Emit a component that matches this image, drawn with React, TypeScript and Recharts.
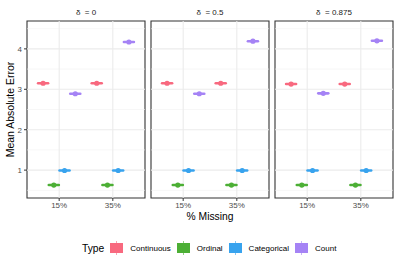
import { ScatterChart, Scatter, XAxis, YAxis, ReferenceLine, ReferenceArea } from "recharts";

const deltas = ["0", "0.5", "0.875"];
const missing = ["15%", "35%"];
const types = ["Continuous", "Ordinal", "Categorical", "Count"];
const COLORS = ["#F8697F", "#4CAF35", "#38A3EE", "#A583F5"];

// mean absolute error, [delta][missing]
const continuousMAE = [[3.15, 3.15], [3.15, 3.15], [3.13, 3.13]];
const ordinalMAE = [[0.63, 0.63], [0.63, 0.63], [0.63, 0.63]];
const categoricalMAE = [[0.99, 0.99], [0.99, 0.99], [0.99, 0.99]];
const countMAE = [[2.89, 4.17], [2.89, 4.19], [2.9, 4.2]];

const yTicks = [1, 2, 3, 4];
const yMinor = [0.5, 1.5, 2.5, 3.5, 4.5];

const seriesByType = [continuousMAE, ordinalMAE, categoricalMAE, countMAE];
const FONT = "Liberation Sans, Arial, sans-serif";

const Marker = (props: any) => {
  const { cx, cy, fill } = props;
  return (
    <g>
      <line x1={cx - 5} x2={cx + 5} y1={cy} y2={cy} stroke={fill} strokeWidth={2.6} strokeLinecap="round" />
      <circle cx={cx} cy={cy} r={2.6} fill={fill} />
    </g>
  );
};

function Panel({ d, first }: { d: number; first: boolean }) {
  const width = first ? 147 : 120;
  return (
    <ScatterChart
      width={width}
      height={215}
      margin={{ top: 21, right: first ? 2 : 1, left: first ? 0 : 1, bottom: 0 }}
    >
      <XAxis
        type="number"
        dataKey="x"
        domain={[0.4, 2.6]}
        ticks={[1, 2]}
        tickFormatter={(v) => missing[v - 1]}
        tick={{ fill: "#4D4D4D", fontSize: 8, fontFamily: FONT }}
        tickSize={3}
        tickMargin={1}
        axisLine={false}
        tickLine={{ stroke: "#333" }}
        height={17}
        allowDataOverflow
      />
      <YAxis
        type="number"
        dataKey="y"
        domain={[0.31, 4.69]}
        ticks={yTicks}
        hide={!first}
        width={27}
        tick={{ fill: "#4D4D4D", fontSize: 8, fontFamily: FONT }}
        tickSize={3}
        tickMargin={2}
        axisLine={false}
        tickLine={{ stroke: "#333" }}
        allowDataOverflow
        label={{
          value: "Mean Absolute Error",
          angle: -90,
          position: "insideLeft",
          offset: 10,
          style: { textAnchor: "middle", fontSize: 10.5, fill: "#000", fontFamily: FONT },
        }}
      />
      {yMinor.map((v) => (
        <ReferenceLine key={`m${v}`} y={v} stroke="#F2F2F2" strokeWidth={0.6} />
      ))}
      {yTicks.map((v) => (
        <ReferenceLine key={`y${v}`} y={v} stroke="#EBEBEB" strokeWidth={1.1} />
      ))}
      {[1, 2].map((v) => (
        <ReferenceLine key={`x${v}`} x={v} stroke="#EBEBEB" strokeWidth={1.1} />
      ))}
      {types.map((t, i) => (
        <Scatter
          key={t}
          name={t}
          data={seriesByType[i][d].map((y, m) => ({ x: m + 1 + (i - 1.5) * 0.2, y }))}
          fill={COLORS[i]}
          shape={<Marker />}
          isAnimationActive={false}
        />
      ))}
      <ReferenceArea x1={0.4} x2={2.6} y1={0.31} y2={4.69} fill="none" stroke="#333" strokeWidth={1.1} />
    </ScatterChart>
  );
}

const lefts = [0, 150, 274];
const panelCenters = [86, 210, 334];

export default function App() {
  return (
    <div style={{ position: "absolute", left: 0, top: 0, width: 399, height: 266, background: "#fff", fontFamily: FONT }}>
      {deltas.map((dl, i) => (
        <div key={dl} style={{ position: "absolute", left: lefts[i], top: 0 }}>
          <Panel d={i} first={i === 0} />
        </div>
      ))}
      {deltas.map((dl, i) => (
        <div
          key={`s${dl}`}
          style={{
            position: "absolute", top: 7, left: panelCenters[i] - 50, width: 100,
            textAlign: "center", fontSize: 8, color: "#1A1A1A", lineHeight: "12px",
          }}
        >
          δ &nbsp;= {dl}
        </div>
      ))}
      <div style={{ position: "absolute", top: 210, left: 160, width: 100, textAlign: "center", fontSize: 10.3, lineHeight: "13px" }}>
        % Missing
      </div>
      <div style={{ position: "absolute", top: 241, left: 82, display: "flex", alignItems: "center", height: 14 }}>
        <span style={{ fontSize: 10.3, marginRight: 6 }}>Type</span>
        {types.map((t, i) => (
          <div key={t} style={{ display: "flex", alignItems: "center" }}>
            <svg width={13} height={14} style={{ marginRight: 7 }}>
              <rect x={0} y={2} width={13} height={10} fill={COLORS[i]} />
              <line x1={6.5} x2={6.5} y1={0} y2={14} stroke={COLORS[i]} strokeWidth={1} opacity={0.6} />
            </svg>
            <span style={{ fontSize: 8, marginRight: 6 }}>{t}</span>
          </div>
        ))}
      </div>
    </div>
  );
}
